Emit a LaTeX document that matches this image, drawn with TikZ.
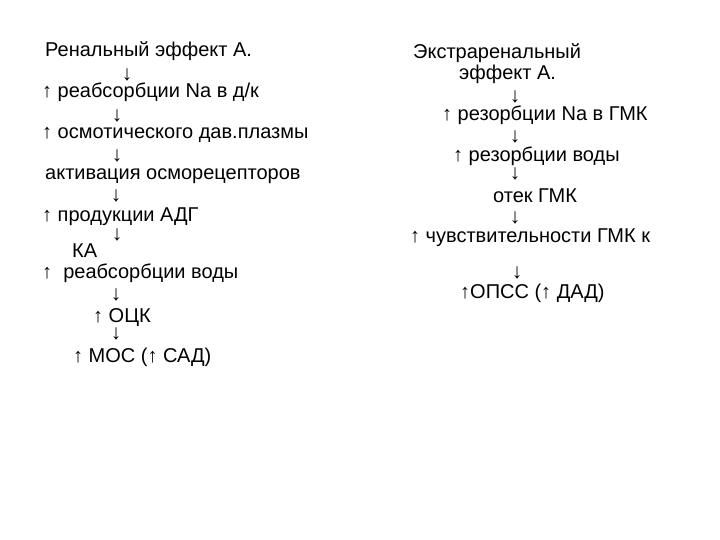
\documentclass[tikz,border=0pt]{standalone}
\usepackage{fontspec}
\setmainfont{Liberation Sans}
\begin{document}
\begin{tikzpicture}[x=1bp,y=-1bp,
  txt/.style={anchor=base west, inner sep=0pt, text=black, font=\fontsize{20bp}{23bp}\selectfont},
  arr/.style={anchor=center, inner sep=0pt, text=black, font=\fontsize{21bp}{24bp}\selectfont}]
\fill[white] (0,0) rectangle (720,540);
\useasboundingbox (0,0) rectangle (720,540);
% left column
\node[txt] (l1) at (45,57) {Ренальный эффект А.};
\node[arr] (la1) at (127,75) {↓};
\node[txt] (l2) at (42,98) {↑ реабсорбции Na в д/к};
\node[arr] (la2) at (117,116) {↓};
\node[txt] (l3) at (42,139) {↑ осмотического дав.плазмы};
\node[arr] (la3) at (117,156) {↓};
\node[txt] (l4) at (45,180) {активация осморецепторов};
\node[arr] (la4) at (116,196) {↓};
\node[txt] (l5) at (42,222) {↑ продукции АДГ};
\node[arr] (la5) at (117,235) {↓};
\node[txt] (l6) at (72,258) {КА};
\node[txt] (l7) at (42,279) {↑\ \ реабсорбции воды};
\node[arr] (la6) at (116,295) {↓};
\node[txt] (l8) at (93,322) {↑ ОЦК};
\node[arr] (la7) at (116,334) {↓};
\node[txt] (l9) at (73,362) {↑ МОС (↑ САД)};
% right column
\node[txt] (r1) at (413,59) {Экстраренальный};
\node[txt] (r2) at (459,80) {эффект А.};
\node[arr] (ra1) at (515,97) {↓};
\node[txt] (r3) at (442,121) {↑ резорбции Na в ГМК};
\node[arr] (ra2) at (515,137) {↓};
\node[txt] (r4) at (453,162) {↑ резорбции воды};
\node[arr] (ra3) at (515,174) {↓};
\node[txt] (r5) at (493,203) {отек ГМК};
\node[arr] (ra4) at (515,218) {↓};
\node[txt] (r6) at (410,243) {↑ чувствительности ГМК к};
\node[arr] (ra5) at (517,273) {↓};
\node[txt] (r7) at (460,298) {↑ОПСС (↑ ДАД)};
\end{tikzpicture}
\end{document}
